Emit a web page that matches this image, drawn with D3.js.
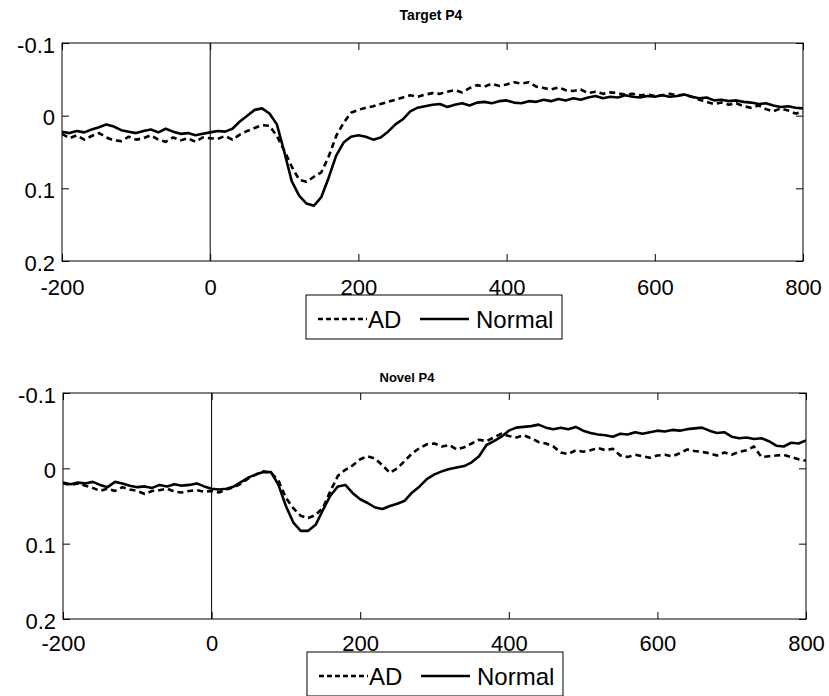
<!DOCTYPE html>
<html>
<head>
<meta charset="utf-8">
<script src="https://cdn.jsdelivr.net/npm/d3@7"></script>
<style>
  html, body { margin: 0; padding: 0; background: #fff; }
  svg { display: block; }
</style>
</head>
<body>
<div id="chart"></div>
<script>
// ── Data ──
var TIME_MS = [
  -200, -190, -180, -170, -160, -150, -140, -130, -120, -110,
  -100, -90, -80, -70, -60, -50, -40, -30, -20, -10,
  0, 10, 20, 30, 40, 50, 60, 70, 80, 90,
  100, 110, 120, 130, 140, 150, 160, 170, 180, 190,
  200, 210, 220, 230, 240, 250, 260, 270, 280, 290,
  300, 310, 320, 330, 340, 350, 360, 370, 380, 390,
  400, 410, 420, 430, 440, 450, 460, 470, 480, 490,
  500, 510, 520, 530, 540, 550, 560, 570, 580, 590,
  600, 610, 620, 630, 640, 650, 660, 670, 680, 690,
  700, 710, 720, 730, 740, 750, 760, 770, 780, 790,
  800
];

var TARGET_AD = [
  0.025, 0.031, 0.027, 0.033, 0.028, 0.024, 0.030, 0.034, 0.035, 0.029,
  0.033, 0.031, 0.027, 0.033, 0.036, 0.030, 0.034, 0.031, 0.036, 0.030,
  0.031, 0.032, 0.028, 0.033, 0.026, 0.021, 0.017, 0.013, 0.014, 0.028,
  0.048, 0.070, 0.088, 0.091, 0.084, 0.078, 0.056, 0.028, 0.010, -0.004,
  -0.008, -0.011, -0.013, -0.016, -0.019, -0.022, -0.025, -0.028, -0.026, -0.029,
  -0.031, -0.030, -0.033, -0.035, -0.032, -0.038, -0.042, -0.040, -0.044, -0.041,
  -0.043, -0.046, -0.044, -0.046, -0.040, -0.038, -0.036, -0.039, -0.035, -0.034,
  -0.036, -0.031, -0.033, -0.030, -0.032, -0.031, -0.029, -0.030, -0.028, -0.029,
  -0.027, -0.028, -0.030, -0.028, -0.029, -0.026, -0.022, -0.019, -0.016, -0.018,
  -0.015, -0.017, -0.013, -0.011, -0.014, -0.009, -0.006, -0.010, -0.007, -0.003,
  -0.005
];

var TARGET_NORMAL = [
  0.022, 0.024, 0.021, 0.023, 0.019, 0.016, 0.012, 0.015, 0.020, 0.022,
  0.024, 0.021, 0.019, 0.023, 0.018, 0.022, 0.025, 0.024, 0.027, 0.025,
  0.023, 0.021, 0.022, 0.018, 0.008, 0.000, -0.008, -0.010, -0.003, 0.012,
  0.050, 0.090, 0.110, 0.121, 0.124, 0.112, 0.085, 0.055, 0.037, 0.029,
  0.027, 0.029, 0.033, 0.030, 0.022, 0.012, 0.005, -0.006, -0.011, -0.013,
  -0.015, -0.016, -0.012, -0.015, -0.017, -0.014, -0.018, -0.019, -0.017, -0.020,
  -0.021, -0.018, -0.017, -0.020, -0.019, -0.022, -0.020, -0.023, -0.021, -0.024,
  -0.022, -0.025, -0.027, -0.024, -0.026, -0.025, -0.028, -0.026, -0.025, -0.027,
  -0.026, -0.028, -0.026, -0.027, -0.029, -0.026, -0.024, -0.025, -0.021, -0.022,
  -0.020, -0.021, -0.019, -0.018, -0.016, -0.017, -0.014, -0.012, -0.013, -0.011,
  -0.010
];

var NOVEL_AD = [
  0.020, 0.022, 0.020, 0.023, 0.026, 0.030, 0.027, 0.030, 0.025, 0.028,
  0.030, 0.034, 0.030, 0.029, 0.027, 0.031, 0.032, 0.030, 0.029, 0.031,
  0.030, 0.032, 0.028, 0.025, 0.020, 0.013, 0.008, 0.004, 0.006, 0.016,
  0.039, 0.053, 0.063, 0.066, 0.062, 0.052, 0.030, 0.010, 0.002, -0.004,
  -0.012, -0.016, -0.013, -0.004, 0.006, 0.000, -0.010, -0.020, -0.027, -0.032,
  -0.033, -0.029, -0.031, -0.025, -0.028, -0.033, -0.038, -0.036, -0.041, -0.046,
  -0.043, -0.041, -0.044, -0.040, -0.035, -0.033, -0.029, -0.021, -0.019, -0.024,
  -0.022, -0.024, -0.027, -0.024, -0.026, -0.017, -0.015, -0.018, -0.016, -0.014,
  -0.017, -0.018, -0.016, -0.020, -0.025, -0.023, -0.022, -0.020, -0.017, -0.021,
  -0.018, -0.022, -0.024, -0.029, -0.015, -0.016, -0.017, -0.018, -0.015, -0.012,
  -0.010
];

var NOVEL_NORMAL = [
  0.019, 0.021, 0.019, 0.020, 0.018, 0.022, 0.025, 0.018, 0.020, 0.023,
  0.025, 0.024, 0.026, 0.022, 0.024, 0.021, 0.023, 0.022, 0.020, 0.024,
  0.027, 0.028, 0.027, 0.024, 0.018, 0.012, 0.008, 0.005, 0.005, 0.022,
  0.050, 0.072, 0.083, 0.083, 0.075, 0.055, 0.036, 0.024, 0.022, 0.033,
  0.041, 0.046, 0.052, 0.054, 0.050, 0.047, 0.043, 0.032, 0.024, 0.014,
  0.008, 0.004, 0.001, -0.001, -0.003, -0.008, -0.016, -0.031, -0.036, -0.042,
  -0.050, -0.054, -0.055, -0.056, -0.058, -0.054, -0.052, -0.054, -0.052, -0.055,
  -0.050, -0.047, -0.045, -0.044, -0.042, -0.046, -0.045, -0.048, -0.046, -0.048,
  -0.050, -0.049, -0.051, -0.050, -0.052, -0.053, -0.054, -0.050, -0.047, -0.048,
  -0.042, -0.040, -0.041, -0.039, -0.040, -0.036, -0.030, -0.029, -0.034, -0.033,
  -0.037
];

var X_TICKS = [-200, 0, 200, 400, 600, 800];
var X_TICK_LABELS = ['-200', '0', '200', '400', '600', '800'];
var Y_TICKS = [-0.1, 0, 0.1, 0.2];
var Y_TICK_LABELS = ['-0.1', '0', '0.1', '0.2'];
var LEGEND_LABELS = ['AD', 'Normal'];
var PANEL_TITLES = ['Target P4', 'Novel P4'];

// ── Layout / style ──
var WIDTH = 829;
var HEIGHT = 696;
var FONT = 'Liberation Sans, Arial, Helvetica, sans-serif';
var TICK_FONT_SIZE = '22px';
var LEGEND_FONT_SIZE = '24px';
var TITLE_FONT_SIZE = '14px';
var LINE_W = 2.6;
var DASH = '6,4';
var TICK_LEN = 7;

var PANELS = [
  {
    title: PANEL_TITLES[0], titleX: 431, titleY: 20,
    left: 62, right: 803, top: 43, bottom: 261,
    xLabelPad: 18,
    legend: { x: 306, y: 295, w: 256, h: 44 },
    ad: TARGET_AD, normal: TARGET_NORMAL
  },
  {
    title: PANEL_TITLES[1], titleX: 407, titleY: 382,
    left: 63, right: 806, top: 393, bottom: 619,
    xLabelPad: 16,
    legend: { x: 307, y: 652, w: 256, h: 44 },
    ad: NOVEL_AD, normal: NOVEL_NORMAL
  }
];

var svg = d3.select('#chart').append('svg')
  .attr('width', WIDTH)
  .attr('height', HEIGHT);

PANELS.forEach(function (p, i) { drawPanel(p, i); });

function drawPanel(p, idx) {
  var x = d3.scaleLinear().domain([-200, 800]).range([p.left, p.right]);
  // reversed y axis: negative up
  var y = d3.scaleLinear().domain([-0.1, 0.2]).range([p.top, p.bottom]);

  var g = svg.append('g');

  // clip
  var clipId = 'clip-' + idx;
  svg.append('defs').append('clipPath').attr('id', clipId)
    .append('rect')
    .attr('x', p.left).attr('y', p.top)
    .attr('width', p.right - p.left).attr('height', p.bottom - p.top);

  // title
  g.append('text')
    .attr('x', p.titleX)
    .attr('y', p.titleY)
    .attr('text-anchor', 'middle')
    .attr('font-family', FONT)
    .attr('font-weight', 'bold')
    .attr('font-size', idx === 0 ? TITLE_FONT_SIZE : '13px')
    .text(p.title);

  // bottom axis with labels
  var xb = g.append('g')
    .attr('transform', 'translate(0,' + p.bottom + ')')
    .call(d3.axisBottom(x).tickValues(X_TICKS).tickSizeInner(-TICK_LEN).tickSizeOuter(0).tickPadding(p.xLabelPad)
      .tickFormat(function (d, i) { return X_TICK_LABELS[i]; }));
  // top axis, ticks only
  var xt = g.append('g')
    .attr('transform', 'translate(0,' + p.top + ')')
    .call(d3.axisTop(x).tickValues(X_TICKS).tickSizeInner(-TICK_LEN).tickSizeOuter(0).tickFormat(''));
  // left axis with labels
  var yl = g.append('g')
    .attr('transform', 'translate(' + p.left + ',0)')
    .call(d3.axisLeft(y).tickValues(Y_TICKS).tickSizeInner(-TICK_LEN).tickSizeOuter(0).tickPadding(7)
      .tickFormat(function (d, i) { return Y_TICK_LABELS[i]; }));
  // right axis, ticks only
  var yr = g.append('g')
    .attr('transform', 'translate(' + p.right + ',0)')
    .call(d3.axisRight(y).tickValues(Y_TICKS).tickSizeInner(-TICK_LEN).tickSizeOuter(0).tickFormat(''));

  [xb, xt, yl, yr].forEach(function (a) {
    a.select('.domain').remove();
    a.selectAll('.tick line').attr('stroke', '#000').attr('stroke-width', 1);
    a.selectAll('.tick text')
      .attr('fill', '#000')
      .attr('font-family', FONT)
      .attr('font-size', TICK_FONT_SIZE);
  });
  yl.selectAll('.tick text').attr('dy', '0.42em');

  // box
  g.append('rect')
    .attr('x', p.left).attr('y', p.top)
    .attr('width', p.right - p.left).attr('height', p.bottom - p.top)
    .attr('fill', 'none')
    .attr('stroke', '#000')
    .attr('stroke-width', 1);

  // stimulus onset line
  g.append('line')
    .attr('x1', x(0)).attr('x2', x(0))
    .attr('y1', p.top).attr('y2', p.bottom)
    .attr('stroke', '#000')
    .attr('stroke-width', 1);

  var line = d3.line()
    .x(function (d, i) { return x(TIME_MS[i]); })
    .y(function (d) { return y(d); });

  var lines = g.append('g').attr('clip-path', 'url(#' + clipId + ')');

  lines.append('path')
    .datum(p.ad)
    .attr('d', line)
    .attr('fill', 'none')
    .attr('stroke', '#000')
    .attr('stroke-width', LINE_W)
    .attr('stroke-dasharray', DASH)
    .attr('stroke-linejoin', 'round');

  lines.append('path')
    .datum(p.normal)
    .attr('d', line)
    .attr('fill', 'none')
    .attr('stroke', '#000')
    .attr('stroke-width', LINE_W)
    .attr('stroke-linejoin', 'round');

  // legend
  var L = p.legend;
  var lg = g.append('g').attr('transform', 'translate(' + L.x + ',' + L.y + ')');
  lg.append('rect')
    .attr('width', L.w).attr('height', L.h)
    .attr('fill', '#fff')
    .attr('stroke', '#000')
    .attr('stroke-width', 1);

  lg.append('line')
    .attr('x1', 12).attr('x2', 61)
    .attr('y1', 24).attr('y2', 24)
    .attr('stroke', '#000')
    .attr('stroke-width', LINE_W)
    .attr('stroke-dasharray', '5,3');
  lg.append('text')
    .attr('x', 62).attr('y', 33)
    .attr('font-family', FONT)
    .attr('font-size', LEGEND_FONT_SIZE)
    .text(LEGEND_LABELS[0]);

  lg.append('line')
    .attr('x1', 114).attr('x2', 163)
    .attr('y1', 24).attr('y2', 24)
    .attr('stroke', '#000')
    .attr('stroke-width', LINE_W);
  lg.append('text')
    .attr('x', 170).attr('y', 33)
    .attr('font-family', FONT)
    .attr('font-size', LEGEND_FONT_SIZE)
    .text(LEGEND_LABELS[1]);
}
</script>
</body>
</html>
